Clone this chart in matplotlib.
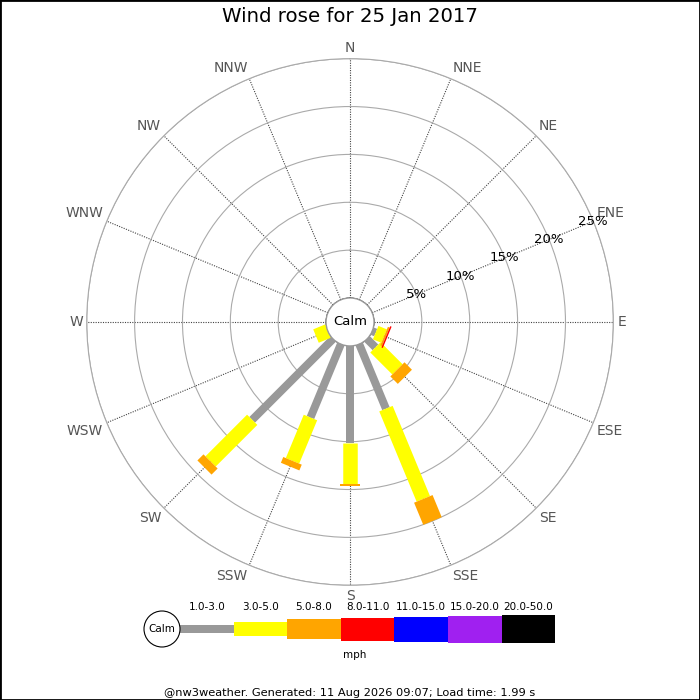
import numpy as np
import matplotlib
matplotlib.use("Agg")
import matplotlib.pyplot as plt
from matplotlib.patches import Circle, Rectangle

# 16 compass points, clockwise from north
directions = ["N", "NNE", "NE", "ENE", "E", "ESE", "SE", "SSE",
              "S", "SSW", "SW", "WSW", "W", "WNW", "NW", "NNW"]

# speed bins (mph) and percentage of time in each bin per direction
speed_bins = ["1.0-3.0", "3.0-5.0", "5.0-8.0", "8.0-11.0",
              "11.0-15.0", "15.0-20.0", "20.0-50.0"]
pct_1_3 = [0, 0, 0, 0, 0, 0.4, 1.25, 7.3, 10.1, 8.3, 11.95, 0, 0, 0, 0, 0]
pct_3_5 = [0, 0, 0, 0, 0, 0.95, 3.25, 10.2, 4.3, 4.9, 6.15, 1.35, 0, 0, 0, 0]
pct_5_8 = [0, 0, 0, 0, 0, 0.2, 1.1, 2.5, 0.2, 0.65, 0.9, 0, 0, 0, 0, 0]
pct_8_11 = [0, 0, 0, 0, 0, 0.15, 0, 0, 0, 0, 0, 0, 0, 0, 0, 0]
pct_11_15 = [0] * 16
pct_15_20 = [0] * 16
pct_20_50 = [0] * 16

ring_ticks = [5, 10, 15, 20, 25]

bin_colors = ["#999999", "#ffff00", "#ffa500", "#ff0000",
              "#0000ff", "#a020f0", "#000000"]
bin_widths_px = [8, 14.5, 20, 23, 25, 27, 28]

series = [pct_1_3, pct_3_5, pct_5_8, pct_8_11, pct_11_15, pct_15_20, pct_20_50]

fig = plt.figure(figsize=(7, 7), dpi=100)

# ---- rose ----
ax = fig.add_axes([0.1239, 0.1639, 0.7523, 0.7523], projection="polar")
ax.set_theta_zero_location("N")
ax.set_theta_direction(-1)
ax.set_ylim(0, 25)
ax.set_rorigin(-2.5)

angles = np.deg2rad(np.arange(16) * 22.5)
ax.set_xticks(angles)
ax.set_xticklabels([])
ax.set_yticks(ring_ticks)
ax.set_yticklabels([])
ax.tick_params(length=0)
ax.xaxis.grid(True, color="#444444", linestyle=(0, (1, 1.2)), linewidth=0.8)
ax.yaxis.grid(True, color="#aaaaaa", linestyle="-", linewidth=0.8)
ax.spines["polar"].set_color("#aaaaaa")
ax.spines["polar"].set_linewidth(0.8)

# stacked bars drawn as thick radial segments
cum = np.zeros(16)
for vals, col, w in zip(series, bin_colors, bin_widths_px):
    vals = np.array(vals, dtype=float)
    for i in range(16):
        if vals[i] > 0:
            ax.plot([angles[i], angles[i]], [cum[i], cum[i] + vals[i]],
                    color=col, linewidth=w * 0.72, solid_capstyle="butt",
                    zorder=3)
    cum += vals

# compass labels
for th, lab in zip(angles, directions):
    s, c = np.sin(th), np.cos(th)
    ha = "left" if s > 0.01 else ("right" if s < -0.01 else "center")
    va = "bottom" if c > 0.01 else ("top" if c < -0.01 else "center")
    ax.text(th, 25.4, lab, ha=ha, va=va, fontsize=10, color="#555555")

# percentage labels along ENE
for r in ring_ticks:
    ax.text(np.deg2rad(67.5), r, f"{r}%", ha="center", va="center",
            fontsize=9.5, color="black", zorder=5)

# calm circle
calm = Circle((0.5, 0.5), 0.0456, transform=ax.transAxes, facecolor="white",
              edgecolor="#999999", linewidth=1, zorder=6, clip_on=False)
ax.add_patch(calm)
ax.text(0.5, 0.5, "Calm", transform=ax.transAxes, ha="center", va="center",
        fontsize=9.5, zorder=7)

fig.text(0.5, 1 - 17 / 700, "Wind rose for 25 Jan 2017", ha="center",
         va="center", fontsize=14.2)

# ---- legend ----
lax = fig.add_axes([0, 0, 1, 1])
lax.set_xlim(0, 700)
lax.set_ylim(700, 0)
lax.axis("off")
seg = 53.6
x0 = 180
ymid = 629
for i, (lab, col, w) in enumerate(zip(speed_bins, bin_colors, bin_widths_px)):
    lax.barh(ymid, seg, left=x0 + i * seg, height=w, color=col, zorder=2)
    lax.text(x0 + i * seg + seg / 2, 607, lab, ha="center", va="center",
             fontsize=7.5)
lax.add_patch(Circle((162, ymid), 18, facecolor="white", edgecolor="black",
                     linewidth=0.8, zorder=3))
lax.text(162, ymid, "Calm", ha="center", va="center", fontsize=7.5, zorder=4)
lax.text(x0 + 3.25 * seg, 655, "mph", ha="center", va="center", fontsize=7.5)

fig.text(0.5, 1 - 693 / 700,
         "@nw3weather. Generated: 11 Aug 2026 09:07; Load time: 1.99 s",
         ha="center", va="center", fontsize=8.2)

fig.patches.append(Rectangle((0, 0), 1, 1, transform=fig.transFigure,
                             fill=False, edgecolor="black", linewidth=2))

fig.savefig("out.png", dpi=100)
